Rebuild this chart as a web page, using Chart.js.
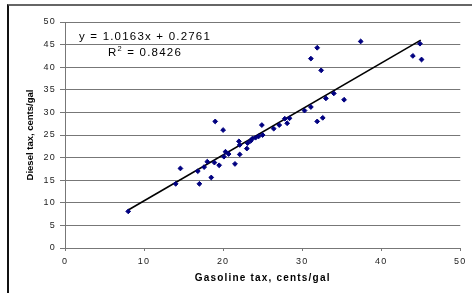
<!DOCTYPE html>
<html><head><meta charset="utf-8">
<script src="https://cdn.jsdelivr.net/npm/chart.js@4.4.0/dist/chart.umd.min.js"></script>
<style>
html,body{margin:0;padding:0;background:#fff;overflow:hidden;}
#wrap{position:relative;width:472px;height:293px;overflow:hidden;}
#frame{position:absolute;left:7px;top:4px;width:520px;height:400px;border-left:2px solid #111;border-top:2px solid #666;}
canvas{position:absolute;left:0;top:0;}
</style></head><body>
<div id="wrap"><div id="frame"></div><canvas id="c" width="472" height="293"></canvas></div>
<script>
// Gasoline tax (x) and diesel tax (y), cents/gal
const gasolineTax = [8.0, 14.0, 14.6, 16.8, 17.0, 17.6, 18.0, 18.5, 18.9, 19.5, 19.0, 20.0, 20.1, 20.3, 20.7, 21.5, 22.0, 22.1, 22.1, 23.0, 23.1, 23.5, 23.7, 24.1, 24.5, 25.0, 24.9, 26.4, 27.1, 27.8, 28.1, 28.4, 30.3, 31.1, 31.9, 32.6, 33.0, 34.0, 35.3, 31.1, 31.9, 32.4, 37.4, 44.0, 44.9, 45.1];
const dieselTax   = [8.1, 14.2, 17.6, 17.0, 14.2, 17.9, 19.1, 15.6, 18.9, 18.3, 28.0, 26.1, 20.2, 21.3, 20.8, 18.6, 23.6, 22.8, 20.7, 22.0, 23.2, 23.7, 24.2, 24.4, 24.7, 25.0, 27.2, 26.4, 27.2, 28.6, 27.6, 28.7, 30.4, 31.2, 28.0, 28.8, 33.1, 34.2, 32.8, 41.9, 44.3, 39.3, 45.7, 42.5, 45.2, 41.7];
// Linear trend line end points as seen in the reference
const trendGas    = [8, 45];
const trendDiesel = [8.4, 46.0];
// Axis ticks
const xTicks = [0, 10, 20, 30, 40, 50];
const yTicks = [0, 5, 10, 15, 20, 25, 30, 35, 40, 45, 50];
// Labels
const xTitle = 'Gasoline tax, cents/gal';
const yTitle = 'Diesel tax, cents/gal';
const equationText = 'y = 1.0163x + 0.2761';
const r2Text = ' = 0.8426';

const FONT = '"Liberation Sans", Arial, Helvetica, sans-serif';
const SPACING = '1.2px';

const points = gasolineTax.map((g, i) => ({x: g, y: dieselTax[i]}));
const trend = trendGas.map((g, i) => ({x: g, y: trendDiesel[i]}));

const spacingPlugin = {
  id: 'spacing',
  beforeUpdate(chart) { chart.ctx.letterSpacing = SPACING; },
  beforeDraw(chart) {
    chart.ctx.letterSpacing = SPACING;
    const ys = chart.scales.y;
    if (ys && !ys.__patched) {
      const orig = ys.drawTitle;
      ys.drawTitle = function () {
        const c = this.ctx; const prev = c.letterSpacing;
        c.letterSpacing = '0px';
        orig.apply(this, arguments);
        c.letterSpacing = prev;
      };
      ys.__patched = true;
    }
  }
};

const equationPlugin = {
  id: 'equation',
  afterDatasetsDraw(chart) {
    const {ctx, chartArea} = chart;
    const cx = chartArea.left + 80;
    const big = '11.5px ' + FONT, small = '7.5px ' + FONT;
    ctx.save();
    ctx.letterSpacing = SPACING;
    ctx.fillStyle = '#000';
    ctx.textBaseline = 'middle';
    ctx.textAlign = 'center';
    ctx.font = big;
    ctx.fillText(equationText, cx, chartArea.top + 15);
    const y2 = chartArea.top + 31;
    ctx.textAlign = 'left';
    const wR = ctx.measureText('R').width;
    const wRest = ctx.measureText(r2Text).width;
    ctx.font = small;
    const w2 = ctx.measureText('2').width;
    let x0 = cx - (wR + w2 + wRest) / 2;
    ctx.font = big;
    ctx.fillText('R', x0, y2);
    ctx.font = small;
    ctx.fillText('2', x0 + wR, y2 - 4);
    ctx.font = big;
    ctx.fillText(r2Text, x0 + wR + w2, y2);
    ctx.restore();
  }
};

new Chart(document.getElementById('c').getContext('2d'), {
  type: 'scatter',
  data: {
    datasets: [
      {
        data: points,
        pointStyle: 'rectRot',
        pointRadius: 2.4,
        pointBorderWidth: 1,
        backgroundColor: '#000080',
        borderColor: '#000080',
        showLine: false
      },
      {
        type: 'line',
        data: trend,
        borderColor: '#000',
        borderWidth: 1.6,
        pointRadius: 0,
        fill: false,
        tension: 0
      }
    ]
  },
  options: {
    responsive: false,
    animation: false,
    events: [],
    layout: {padding: {left: 0, top: 22, right: 10, bottom: 0}},
    plugins: {legend: {display: false}, tooltip: {enabled: false}},
    scales: {
      x: {
        type: 'linear', position: 'bottom', min: 0, max: 50,
        afterBuildTicks: s => { s.ticks = xTicks.map(v => ({value: v})); },
        afterFit: s => { s.height = 45; },
        grid: {drawOnChartArea: false, drawTicks: true, tickLength: 3, color: '#777'},
        border: {color: '#777', width: 1},
        ticks: {font: {size: 9, family: FONT}, color: '#222', padding: 5.5, maxRotation: 0, autoSkip: false},
        title: {display: true, text: xTitle, color: '#000', font: {size: 10, weight: 'bold', family: FONT}, padding: {top: 0, bottom: 9}}
      },
      y: {
        type: 'linear', position: 'left', min: 0, max: 50,
        afterBuildTicks: s => { s.ticks = yTicks.map(v => ({value: v})); },
        afterFit: s => { s.width = 65; },
        grid: {color: '#777', tickLength: 5},
        border: {color: '#777', width: 1},
        ticks: {font: {size: 9, family: FONT}, color: '#222', padding: 4, autoSkip: false},
        title: {display: true, text: yTitle, color: '#000', font: {size: 9.5, weight: 'bold', family: FONT}, padding: {top: 24.3, bottom: 0}}
      }
    }
  },
  plugins: [spacingPlugin, equationPlugin]
});
</script>
</body></html>
